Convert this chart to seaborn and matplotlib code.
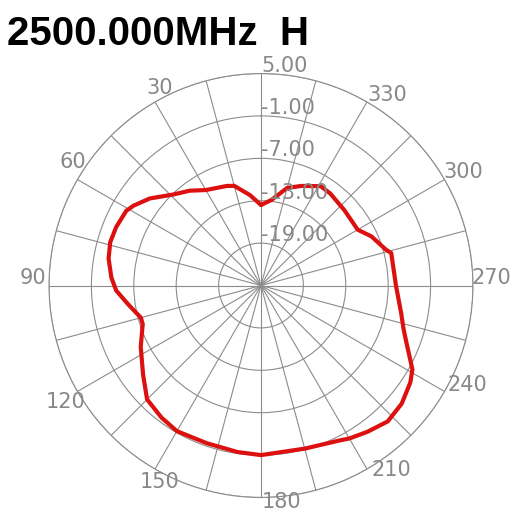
import numpy as np
import pandas as pd
import matplotlib
matplotlib.use("Agg")
import matplotlib.pyplot as plt
import seaborn as sns

# Diagrama de radiacao
angles_deg = [0, 7, 15, 19, 30, 37, 44, 52, 58, 61, 68, 74, 80, 87, 92, 98, 105, 108,
              117, 127, 135, 143, 150, 161, 172, 180, 195, 207, 210, 216, 223, 230,
              237, 241, 249, 253, 259, 270, 284, 286, 294, 300, 312, 323, 329, 338,
              345, 353, 360]
gain_db = [-13.6, -12.1, -10.4, -10.1, -9.4, -8.2, -7.1, -5.0, -3.7, -3.2, -2.9, -2.8,
           -3.1, -3.8, -4.5, -6.0, -7.4, -7.4, -5.9, -4.1, -2.2, -1.6, -1.2, -1.4, -1.2,
           -1.0, -1.1, -0.4, 0.0, 0.6, 1.3, 1.0, 0.2, -0.5, -3.0, -3.9, -4.8, -5.9,
           -6.0, -6.6, -7.9, -9.2, -9.1, -8.7, -8.6, -9.8, -10.7, -12.8, -13.6]

ring_values = [-19, -13, -7, -1, 5]
r_min, r_max = -25, 5
angle_labels = [30, 60, 90, 120, 150, 180, 210, 240, 270, 300, 330]
# deslocamento dos rotulos de angulo (pixels)
label_offsets = [(5, 14), (-5, 18), (-16, 8), (-12, -10), (5, -13), (21, -5),
                 (24, -1), (23, 7), (18, 8), (19, 8), (20, 7)]

title = "2500.000MHz  H"

sns.set_style("white")
plt.rcParams['font.family'] = ['Liberation Sans', 'DejaVu Sans']

grid_color = "#8c8c8c"
text_color = "#888888"

fig = plt.figure(figsize=(5.13, 5.26), dpi=100)
ax = fig.add_axes([0.0955, 0.0542, 0.8265, 0.806], projection="polar")
ax.set_theta_zero_location("N")
ax.set_theta_direction(1)
ax.set_ylim(r_min, r_max)

ax.set_thetagrids(np.arange(0, 360, 15), labels=[])
ax.set_rgrids(ring_values, labels=[])
ax.grid(True, color=grid_color, linewidth=0.8)
ax.spines["polar"].set_color(grid_color)
ax.spines["polar"].set_linewidth(0.8)
ax.tick_params(length=0)

df = pd.DataFrame({"theta": np.deg2rad(angles_deg), "gain": gain_db})
sns.lineplot(data=df, x="theta", y="gain", sort=False, color="#dd1010",
             linewidth=3.0, ax=ax, legend=False)
ax.set_xlabel("")
ax.set_ylabel("")

# rotulos dos aneis
for r in ring_values:
    ax.annotate(f"{r:.2f}", xy=(0, r), xytext=(0, -2), textcoords="offset pixels",
                ha="left", va="bottom", fontsize=15, color=text_color,
                family="DejaVu Sans")

# rotulos de angulo
for a, (dx, dy) in zip(angle_labels, label_offsets):
    ax.annotate(str(a), xy=(np.deg2rad(a), r_max), xytext=(dx, dy),
                textcoords="offset pixels", ha="center", va="center",
                fontsize=15, color=text_color, family="DejaVu Sans",
                annotation_clip=False)

fig.text(7 / 513, 1 - 45 / 526, title, ha="left", va="baseline",
         fontsize=29, fontweight="bold", color="black")

fig.savefig("out.png", dpi=100, facecolor="white")
